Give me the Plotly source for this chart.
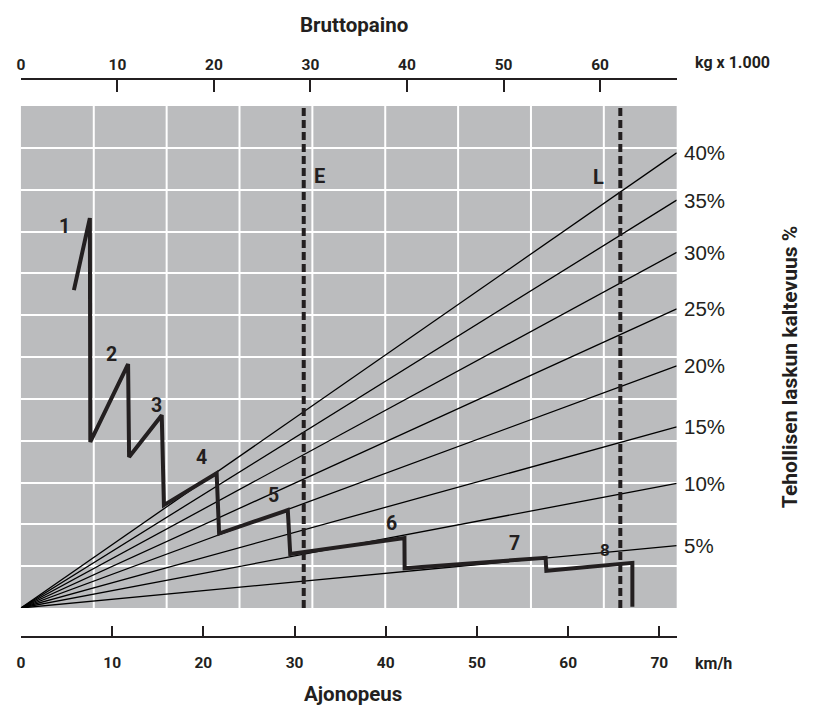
import plotly.graph_objects as go

# ---------------- data ----------------
speed_ticks = [0, 10, 20, 30, 40, 50, 60, 70]          # km/h
weight_ticks = [0, 10, 20, 30, 40, 50, 60]              # kg x 1000
SPEED_MAX = 71.9
WEIGHT_MAX = 67.94
GRID_COLS = 9
GRID_ROWS = 12

grade_labels = ["40%", "35%", "30%", "25%", "20%", "15%", "10%", "5%"]
grade_end = [10.88, 9.75, 8.50, 7.15, 5.79, 4.33, 2.98, 1.49]   # value at right edge

curve_speed = [5.81, 7.56, 7.61, 11.75, 11.86, 15.44, 15.68, 21.46, 21.73,
               29.26, 29.53, 42.05, 42.07, 57.53, 57.61, 67.04, 67.04]
curve_force = [7.60, 9.32, 3.97, 5.83, 3.61, 4.61, 2.46, 3.22, 1.78,
               2.34, 1.29, 1.67, 0.95, 1.20, 0.89, 1.08, 0.03]

gear_names = ["1", "2", "3", "4", "5", "6", "7", "8"]
gear_label_speed = [4.80, 9.96, 14.90, 19.80, 27.70, 40.60, 54.12, 64.09]
gear_label_force = [9.12, 6.05, 4.85, 3.59, 2.70, 2.03, 1.55, 1.39]

limit_names = ["E", "L"]
limit_weight = [29.3, 62.1]
limit_label_weight = [30.9, 59.8]
limit_label_force = [10.33, 10.30]

# ---------------- styling ----------------
W, H = 817, 707
INK = "#231f20"
GRAY = "#bbbcbe"
COND = "Roboto, DejaVu Sans Condensed, sans-serif"
REG = "Liberation Sans, Arial, sans-serif"


def px_x(p):
    return p / W


def px_y(p):
    return 1 - p / H


fig = go.Figure()

# slope (grade) lines
for lab, v in zip(grade_labels, grade_end):
    fig.add_trace(go.Scatter(x=[0, SPEED_MAX], y=[0, v], mode="lines",
                             line=dict(color="black", width=1.3),
                             xaxis="x", yaxis="y", hoverinfo="skip"))

# gear curve
fig.add_trace(go.Scatter(x=curve_speed, y=curve_force, mode="lines",
                         line=dict(color=INK, width=4),
                         xaxis="x", yaxis="y", hoverinfo="skip"))

# E / L dashed limits (weight axis)
for n, w in zip(limit_names, limit_weight):
    fig.add_trace(go.Scatter(x=[w, w], y=[0, GRID_ROWS], mode="lines",
                             line=dict(color=INK, width=4, dash="8px,4px"),
                             xaxis="x2", yaxis="y", hoverinfo="skip"))

# vertical white grid lines of the gray panel
shapes = []
for i in range(1, GRID_COLS):
    shapes.append(dict(type="line", xref="x domain", yref="y domain",
                       x0=i / GRID_COLS, x1=i / GRID_COLS, y0=0, y1=1,
                       line=dict(color="white", width=2), layer="below"))

annotations = []
for lab, v in zip(grade_labels, grade_end):
    annotations.append(dict(text=lab, xref="paper", yref="y", x=px_x(681), y=v,
                            xanchor="left", yanchor="middle", showarrow=False,
                            font=dict(family=REG, size=20.5, color=INK)))
for g, sx, sy in zip(gear_names, gear_label_speed, gear_label_force):
    annotations.append(dict(text=g, xref="x", yref="y", x=sx, y=sy,
                            xanchor="center", yanchor="middle", showarrow=False,
                            font=dict(family=COND, size=17 if g == "8" else 19.5,
                                      color=INK, weight="bold")))
for n, wx, wy in zip(limit_names, limit_label_weight, limit_label_force):
    annotations.append(dict(text=n, xref="x2", yref="y", x=wx, y=wy,
                            xanchor="center", yanchor="middle", showarrow=False,
                            font=dict(family=COND, size=20, color=INK, weight="bold")))


def text_at(txt, x, y, size, angle=0):
    return dict(text=txt, xref="paper", yref="paper", x=px_x(x), y=px_y(y),
                xanchor="center", yanchor="middle", textangle=angle,
                showarrow=False,
                font=dict(family=COND, size=size, color=INK, weight="bold"))


annotations += [
    text_at("Bruttopaino", 352, 25, 20.5),
    text_at("Ajonopeus", 351, 694, 20.5),
    text_at("kg x 1.000", 732, 63, 16),
    text_at("km/h", 713, 663, 16),
    text_at("Tehollisen laskun kaltevuus %", 790, 367, 21, -90),
]

axis_font = dict(family=COND, size=15.5, color=INK, weight="bold")

fig.update_layout(
    width=W, height=H,
    margin=dict(l=0, r=0, t=0, b=0),
    paper_bgcolor="white", plot_bgcolor=GRAY,
    showlegend=False,
    shapes=shapes,
    annotations=annotations,
    xaxis=dict(domain=[px_x(17), px_x(676)], anchor="free", position=px_y(636.7),
               side="bottom", range=[0, SPEED_MAX], tickvals=speed_ticks,
               ticktext=[str(t) for t in speed_ticks],
               ticks="inside", ticklen=10, tickwidth=1.5, tickcolor=INK,
               showline=True, linewidth=2, linecolor=INK,
               showgrid=False, zeroline=False, tickfont=axis_font,
               ticklabelstandoff=12, fixedrange=True),
    yaxis=dict(domain=[px_y(608), px_y(106)], range=[0, GRID_ROWS], dtick=1, tick0=0,
               showgrid=True, gridcolor="white", gridwidth=2,
               showticklabels=False, ticks="", zeroline=False, showline=False,
               fixedrange=True),
    xaxis2=dict(overlaying="x", anchor="free", position=px_y(79), side="top",
                range=[0, WEIGHT_MAX], tickvals=weight_ticks,
                ticktext=[str(t) for t in weight_ticks],
                ticks="inside", ticklen=12, tickwidth=1.5, tickcolor=INK,
                showline=True, linewidth=2, linecolor=INK,
                showgrid=False, zeroline=False, tickfont=axis_font,
                ticklabelstandoff=2, fixedrange=True),
)

fig.write_html("out.html", config={"displayModeBar": False},
               post_script="document.body.style.margin='0';")
